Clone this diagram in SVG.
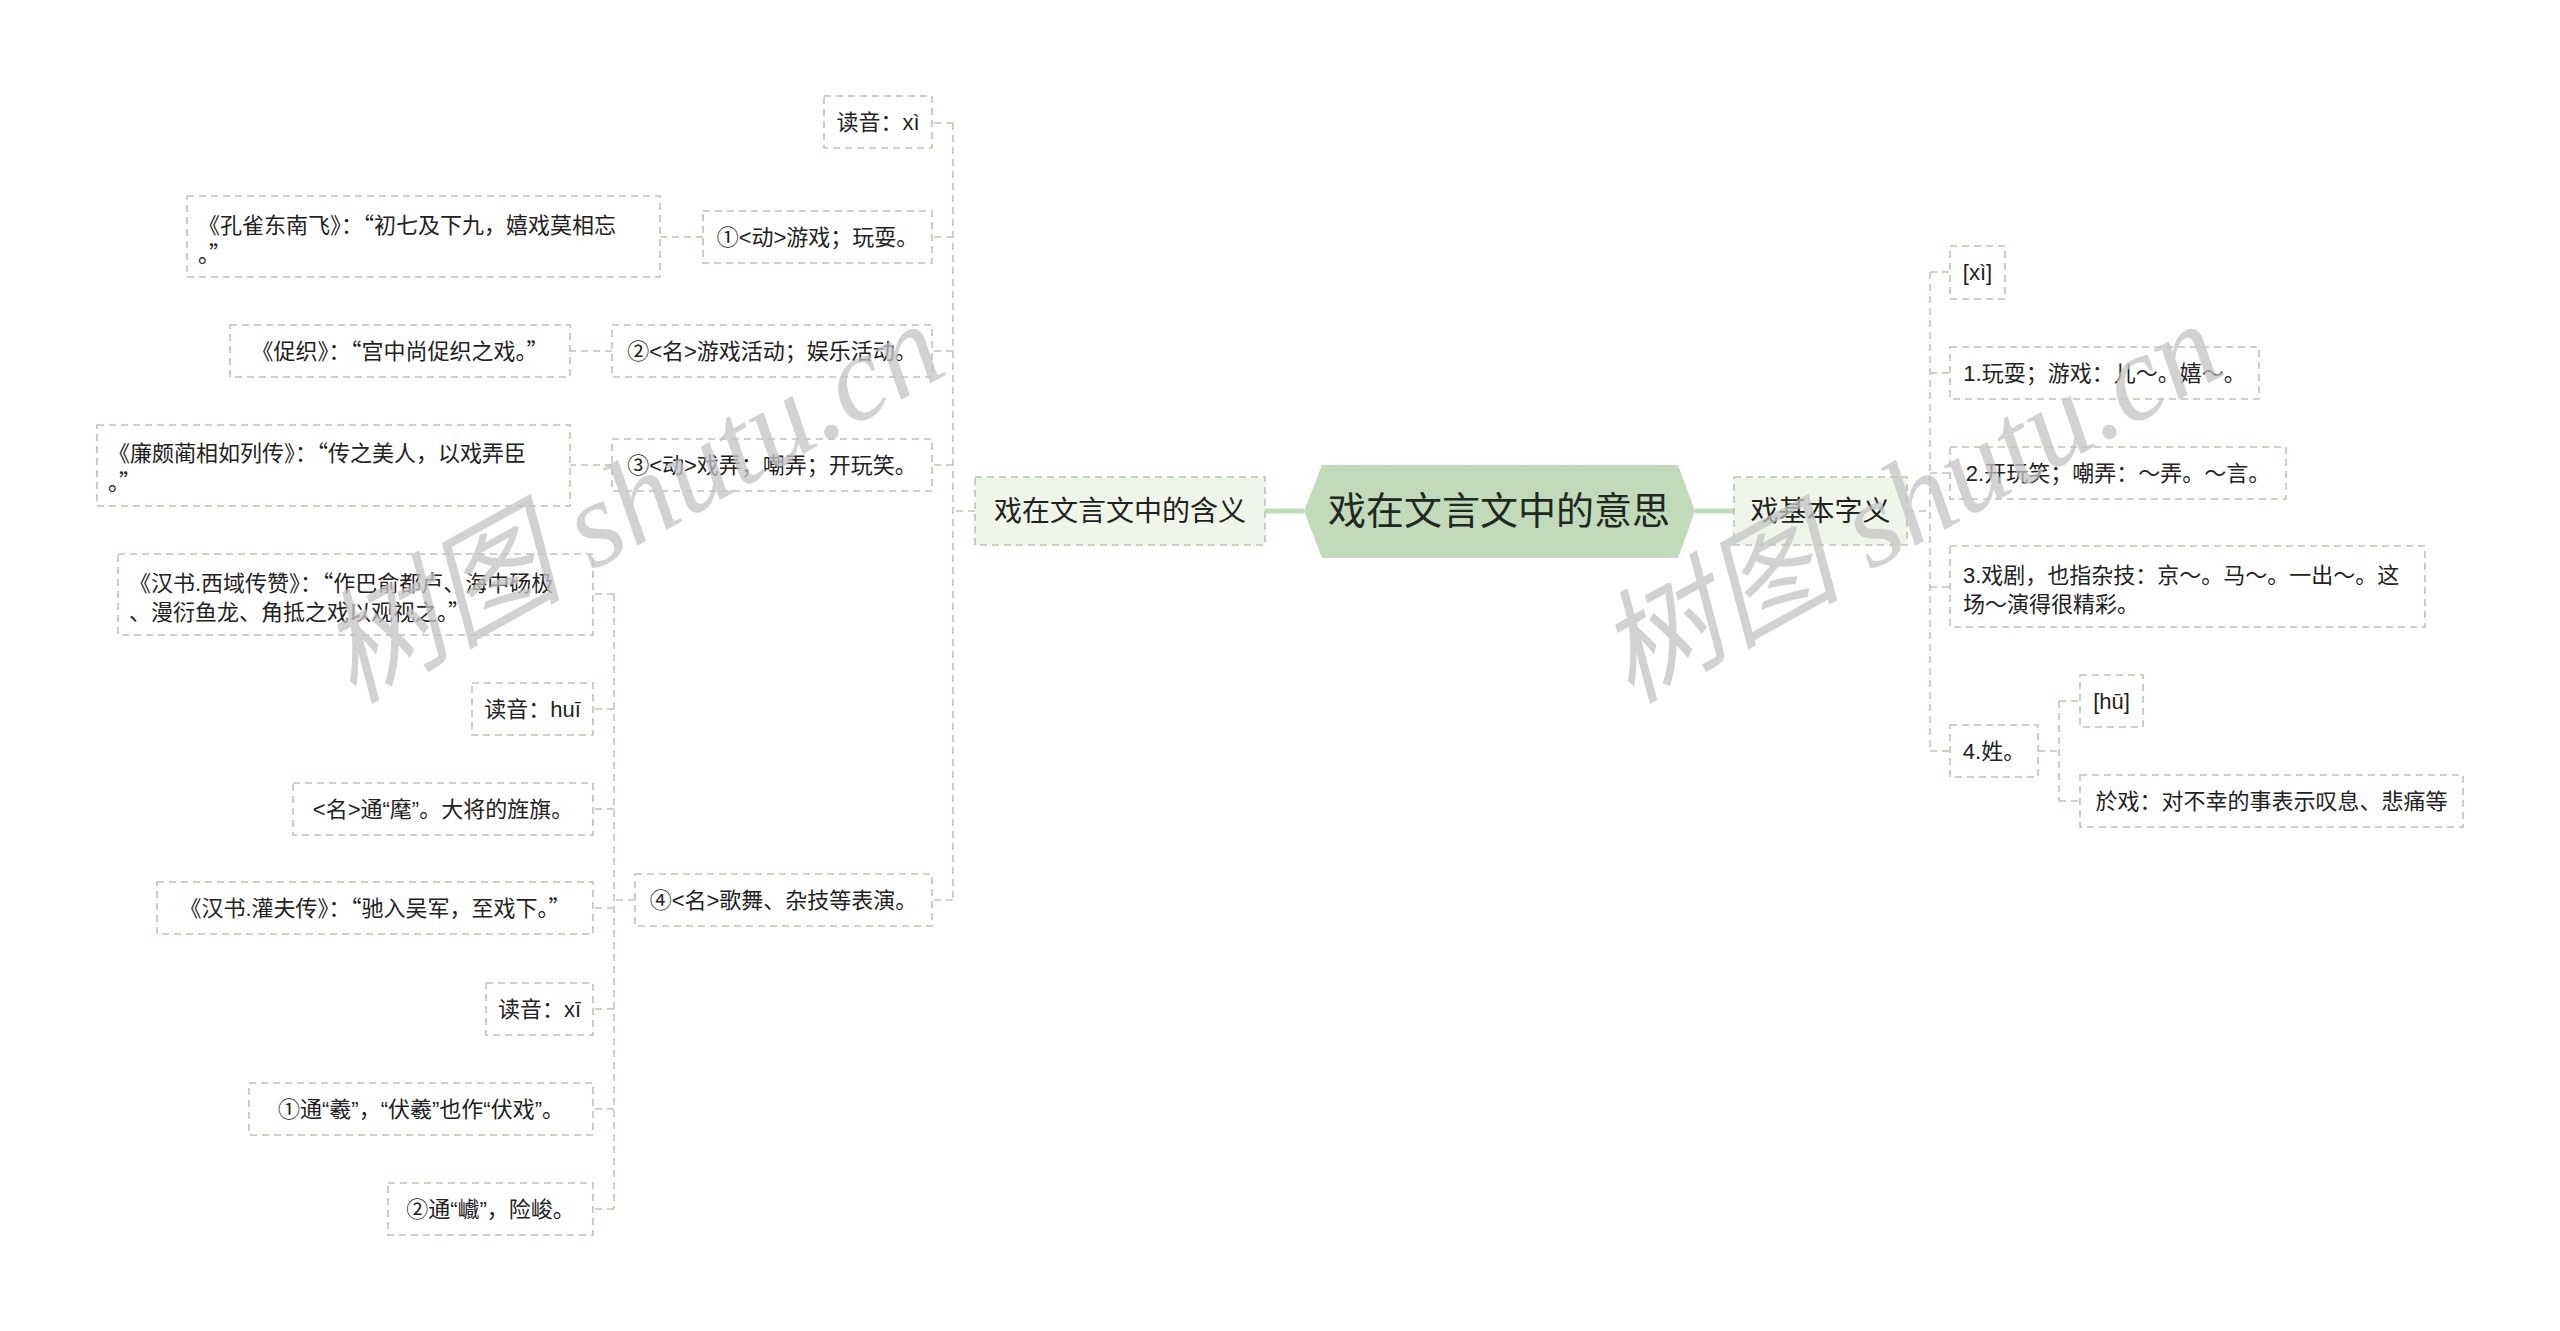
<svg xmlns="http://www.w3.org/2000/svg" width="2560" height="1331" viewBox="0 0 2560 1331">
<style>
.bx{fill:#ffffff;stroke:#b6c8b0;stroke-width:1.6;stroke-dasharray:7 5}
.l1{fill:#eff6e9;stroke:#b6c8b0;stroke-width:1.6;stroke-dasharray:7 5}
.t{font-family:"Liberation Sans","Noto Sans CJK SC",sans-serif;font-size:22px;fill:#222}
.m{text-anchor:middle}
.fq{font-family:"Noto Sans CJK SC",sans-serif;font-feature-settings:"fwid" 1}
.t1{font-family:"Liberation Sans","Noto Sans CJK SC",sans-serif;font-size:28px;fill:#222;text-anchor:middle}
.t0{font-family:"Liberation Sans","Noto Sans CJK SC",sans-serif;font-size:38px;fill:#1e2a1e;text-anchor:middle}
.c{fill:none;stroke:#b8c9b3;stroke-width:1.6;stroke-dasharray:7 5}
.mc{fill:none;stroke:#c1dbba;stroke-width:5}
.wm{font-family:"Liberation Serif","Noto Sans CJK SC",serif;font-style:italic;font-size:122px;fill:#c4c4c4;opacity:0.75}
</style>
<rect width="2560" height="1331" fill="#ffffff"/>
<g id="connectors">
<path class="mc" d="M1304 511H1265M1695 511H1734"/>
<path class="c" d="M975 511H953M953 123V901M953 123H932M953 237H932M953 351H932M953 465H932M953 900H932"/>
<path class="c" d="M703 237H660M612 351H570M612 465H570"/>
<path class="c" d="M635 900H614M614 594V1209M614 594H593M614 709H593M614 809H593M614 908H593M614 1009H593M614 1109H593M614 1209H593"/>
<path class="c" d="M1907 511H1930M1930 272V751M1930 272H1950M1930 373H1950M1930 473H1950M1930 587H1950M1930 751H1950"/>
<path class="c" d="M2038 751H2059M2059 701V801M2059 701H2080M2059 801H2080"/>
</g>
<g id="root">
<polygon points="1304,511 1322,465 1678,465 1695,511 1678,558 1322,558" fill="#c1dbba"/>
<text class="t0" x="1499" y="524">戏在文言文中的意思</text>
</g>
<g id="hanyi">
<rect class="l1" x="975" y="477" width="290" height="68"/>
<text class="t1" x="1120" y="521">戏在文言文中的含义</text>
</g>
<g id="ziyi">
<rect class="l1" x="1734" y="477" width="173" height="68"/>
<text class="t1" x="1820.5" y="521">戏基本字义</text>
</g>
<g id="n-duyin-xi">
<rect class="bx" x="824" y="96" width="108" height="52"/>
<text class="t m" x="878" y="130">读音：xì</text>
</g>
<g id="n-1">
<rect class="bx" x="703" y="211" width="229" height="52"/>
<text class="t m" x="817.5" y="245">①&lt;动&gt;游戏；玩耍。</text>
</g>
<g id="n-2">
<rect class="bx" x="612" y="325" width="320" height="52"/>
<text class="t m" x="772" y="359">②&lt;名&gt;游戏活动；娱乐活动。</text>
</g>
<g id="n-3">
<rect class="bx" x="612" y="439" width="320" height="52"/>
<text class="t m" x="772" y="473">③&lt;动&gt;戏弄；嘲弄；开玩笑。</text>
</g>
<g id="n-4">
<rect class="bx" x="635" y="874" width="297" height="52"/>
<text class="t m" x="783.5" y="908">④&lt;名&gt;歌舞、杂技等表演。</text>
</g>
<g id="g-kongque">
<rect class="bx" x="187" y="196" width="473" height="81"/>
<text class="t" x="198" y="233">《孔雀东南飞》：<tspan class="fq">“</tspan>初七及下九，嬉戏莫相忘<tspan x="198" y="262">。<tspan class="fq">”</tspan></tspan></text>
</g>
<g id="g-cuzhi">
<rect class="bx" x="230" y="325" width="340" height="52"/>
<text class="t m" x="400" y="359">《促织》：<tspan class="fq">“</tspan>宫中尚促织之戏。<tspan class="fq">”</tspan></text>
</g>
<g id="g-lianpo">
<rect class="bx" x="97" y="425" width="473" height="81"/>
<text class="t" x="108" y="461">《廉颇蔺相如列传》：<tspan class="fq">“</tspan>传之美人，以戏弄臣<tspan x="108" y="490">。<tspan class="fq">”</tspan></tspan></text>
</g>
<g id="h-xiyu">
<rect class="bx" x="118" y="554" width="475" height="81"/>
<text class="t" x="129" y="591">《汉书.西域传赞》：<tspan class="fq">“</tspan>作巴俞都卢、海中砀极<tspan x="129" y="620">、漫衍鱼龙、角抵之戏以观视之。<tspan class="fq">”</tspan></tspan></text>
</g>
<g id="h-duyin-hui">
<rect class="bx" x="472" y="683" width="121" height="52"/>
<text class="t m" x="532.5" y="717">读音：huī</text>
</g>
<g id="h-hui">
<rect class="bx" x="293" y="783" width="300" height="52"/>
<text class="t m" x="443" y="817">&lt;名&gt;通“麾”。大将的旌旗。</text>
</g>
<g id="h-guanfu">
<rect class="bx" x="157" y="882" width="436" height="52"/>
<text class="t m" x="375" y="916">《汉书.灌夫传》：<tspan class="fq">“</tspan>驰入吴军，至戏下。<tspan class="fq">”</tspan></text>
</g>
<g id="h-duyin-xi1">
<rect class="bx" x="486" y="983" width="107" height="52"/>
<text class="t m" x="539.5" y="1017">读音：xī</text>
</g>
<g id="h-xi1">
<rect class="bx" x="249" y="1083" width="344" height="52"/>
<text class="t m" x="421" y="1117">①通“羲”，“伏羲”也作“伏戏”。</text>
</g>
<g id="h-xi2">
<rect class="bx" x="388" y="1183" width="205" height="52"/>
<text class="t m" x="490.5" y="1217">②通“巇”，险峻。</text>
</g>
<g id="r-xi">
<rect class="bx" x="1950" y="246" width="55" height="53"/>
<text class="t m" x="1977.5" y="280">[xì]</text>
</g>
<g id="r-1">
<rect class="bx" x="1950" y="347" width="309" height="52"/>
<text class="t m" x="2104.5" y="381">1.玩耍；游戏：儿～。嬉～。</text>
</g>
<g id="r-2">
<rect class="bx" x="1950" y="447" width="336" height="52"/>
<text class="t m" x="2118" y="481">2.开玩笑；嘲弄：～弄。～言。</text>
</g>
<g id="r-3">
<rect class="bx" x="1950" y="546" width="475" height="81"/>
<text class="t" x="1963" y="583">3.戏剧，也指杂技：京～。马～。一出～。这<tspan x="1963" y="612">场～演得很精彩。</tspan></text>
</g>
<g id="r-4">
<rect class="bx" x="1950" y="725" width="88" height="52"/>
<text class="t m" x="1994" y="759">4.姓。</text>
</g>
<g id="r-hu">
<rect class="bx" x="2080" y="675" width="63" height="52"/>
<text class="t m" x="2111.5" y="709">[hū]</text>
</g>
<g id="r-wuxi">
<rect class="bx" x="2080" y="775" width="383" height="52"/>
<text class="t m" x="2271.5" y="809">於戏：对不幸的事表示叹息、悲痛等</text>
</g>
<g id="watermarks">
<text class="wm" x="352" y="704" transform="rotate(-29 352 704)">树图 shutu.cn</text>
<text class="wm" x="1630" y="704" transform="rotate(-29 1630 704)">树图 shutu.cn</text>
</g>
</svg>
